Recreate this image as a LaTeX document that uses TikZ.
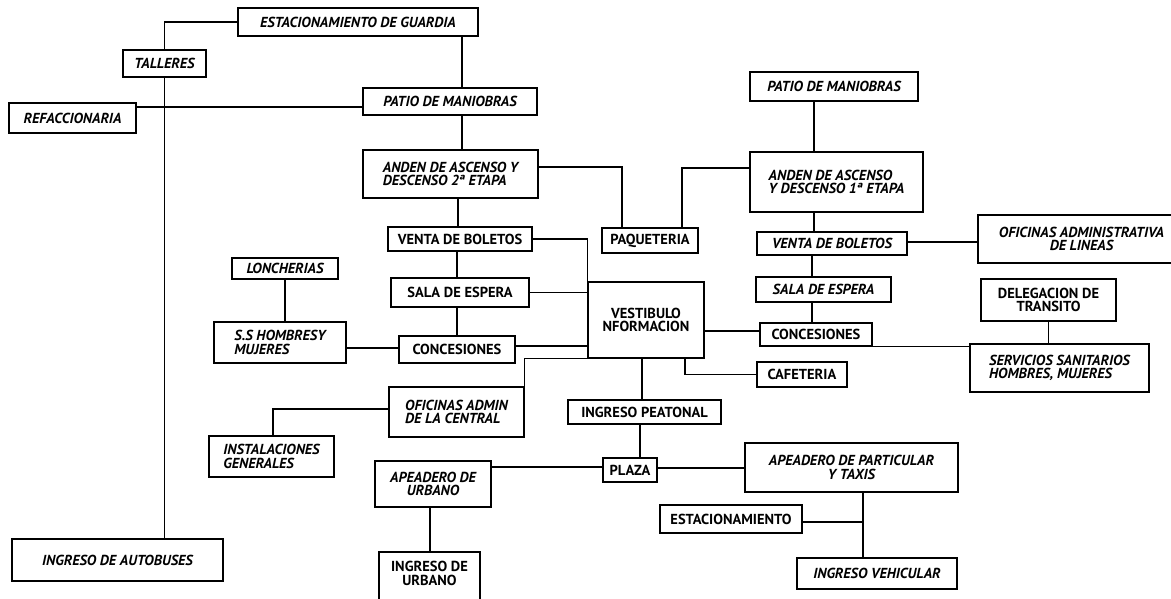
\documentclass[tikz,border=0pt]{standalone}
\usepackage{fontspec}
\setmainfont{PT Sans}
\begin{document}
\begin{tikzpicture}[x=1pt,y=-1pt,
  box/.style={draw,line width=1.1pt,inner sep=0pt,align=center,font=\fontsize{14.5}{13.5}\selectfont\bfseries},
  itl/.style={box,font=\fontsize{14.5}{13.5}\selectfont\bfseries\itshape},
  upr/.style={box},
  lft/.style={align=left},
  conn/.style={line width=1.1pt}]
\useasboundingbox (0,0) rectangle (1171,598);
\newcommand\boxat[7]{\node[#6,minimum width={(#4-#2)*1pt},minimum height={(#5-#3)*1pt}] (#1) at ({(#2+#4)/2},{(#3+#5)/2}) {#7};}
% left column
\boxat{est}{238}{8}{478}{36}{itl}{ESTACIONAMIENTO DE GUARDIA}
\boxat{tal}{123}{50}{206}{77}{itl}{TALLERES}
\boxat{ref}{9}{103}{136}{133}{itl}{REFACCIONARIA}
\boxat{patio}{363}{88}{537}{115}{itl}{PATIO DE MANIOBRAS}
\boxat{andenA}{363}{150}{538}{198}{itl,lft}{ANDEN DE ASCENSO Y\\DESCENSO 2ª ETAPA}
\boxat{ventaL}{388}{227}{532}{251}{upr}{VENTA DE BOLETOS}
\boxat{salaL}{391}{278}{529}{307}{upr}{SALA DE ESPERA}
\boxat{concL}{399}{336}{515}{363}{upr}{CONCESIONES}
\boxat{lonch}{232}{258}{338}{279}{itl}{LONCHERIAS}
\boxat{ss}{214}{322}{346}{363}{itl,lft}{S.S HOMBRESY\\MUJERES}
\boxat{ingaut}{12}{539}{223}{581}{itl}{INGRESO DE AUTOBUSES}
% centre
\boxat{paq}{602}{228}{698}{253}{upr}{PAQUETERIA}
\boxat{vest}{588}{282}{704}{358}{upr}{VESTIBULO\\NFORMACION}
\boxat{ofiC}{389}{387}{524}{437}{itl,lft}{OFICINAS ADMIN\\DE LA CENTRAL}
\boxat{inst}{209}{436}{334}{477}{itl,lft}{INSTALACIONES\\GENERALES}
\boxat{ingP}{568}{400}{721}{424}{upr}{INGRESO PEATONAL}
\boxat{plaza}{603}{458}{657}{482}{upr}{PLAZA}
\boxat{apeU}{375}{461}{491}{507}{itl}{APEADERO DE\\URBANO}
\boxat{ingU}{379}{552}{480}{612}{upr}{INGRESO DE\\URBANO\\[4pt]}
% right
\boxat{patioR}{750}{72}{918}{101}{itl}{PATIO DE MANIOBRAS}
\boxat{andenB}{750}{152}{923}{212}{itl,lft}{ANDEN DE ASCENSO\\Y DESCENSO 1ª ETAPA}
\boxat{ventaR}{757}{232}{907}{255}{itl}{VENTA DE BOLETOS}
\boxat{salaR}{756}{277}{891}{302}{itl}{SALA DE ESPERA}
\boxat{concR}{760}{323}{872}{346}{upr}{CONCESIONES}
\boxat{cafe}{757}{362}{847}{387}{upr}{CAFETERIA}
\boxat{ofiL}{978}{215}{1185}{263}{itl}{OFICINAS ADMINISTRATIVA\\DE LINEAS}
\boxat{deleg}{981}{279}{1116}{321}{upr}{DELEGACION DE\\TRANSITO}
\boxat{serv}{970}{344}{1149}{392}{itl,lft}{SERVICIOS SANITARIOS\\HOMBRES, MUJERES}
\boxat{apeP}{745}{443}{958}{492}{itl}{APEADERO DE PARTICULAR\\Y TAXIS}
\boxat{estac}{660}{505}{802}{533}{upr}{ESTACIONAMIENTO}
\boxat{ingV}{797}{558}{957}{589}{itl}{INGRESO VEHICULAR}
% connectors
\draw[conn] (tal.north) |- (est.west);
\draw[conn] (ref.east |- 0,107) -- (patio.west |- 0,107);
\draw[conn] (tal.south) -- (tal.south |- ingaut.north);
\draw[conn] (est.south -| 462,0) -- (patio.north -| 462,0);
\draw[conn] (patio.south -| 462,0) -- (andenA.north -| 462,0);
\draw[conn] (andenA.south -| 458,0) -- (ventaL.north -| 458,0);
\draw[conn] (ventaL.south -| 457,0) -- (salaL.north -| 457,0);
\draw[conn] (salaL.south -| 457,0) -- (concL.north -| 457,0);
\draw[conn] (ventaL.east) -| (vest.north west);
\draw[conn] (salaL.east) -- (salaL.east -| vest.west);
\draw[conn] (concL.east |- 0,346) -- (vest.west |- 0,346);
\draw[conn] (lonch.south) -- (lonch.south |- ss.north);
\draw[conn] (ss.east |- 0,348) -- (concL.west |- 0,348);
\draw[conn] (andenA.east |- 0,167) -- (622,167) -- (paq.north -| 622,0);
\draw[conn] (paq.north -| 682,0) |- (andenB.west |- 0,168);
\draw[conn] (patioR.south -| 814,0) -- (andenB.north -| 814,0);
\draw[conn] (andenB.south -| 814,0) -- (ventaR.north -| 814,0);
\draw[conn] (ventaR.south -| 812,0) -- (salaR.north -| 812,0);
\draw[conn] (salaR.south -| 812,0) -- (concR.north -| 812,0);
\draw[conn] (ventaR.east |- 0,242) -- (ofiL.west |- 0,242);
\draw[conn] (vest.east |- 0,331) -- (concR.west |- 0,331);
\draw[conn] (concR.south east) -- (serv.west |- concR.south east);
\draw[conn] (deleg.south) -- (deleg.south |- serv.north);
\draw[conn] (vest.south -| 685,0) |- (cafe.west);
\draw[conn] (vest.south -| 642,0) -- (ingP.north -| 642,0);
\draw[conn] (ingP.south -| 640,0) -- (plaza.north -| 640,0);
\draw[conn] (ofiC.north east) |- (vest.south west);
\draw[conn] (ofiC.west |- 0,409) -| (inst.north -| 273,0);
\draw[conn] (apeU.east |- 0,467) -- (plaza.west |- 0,467);
\draw[conn] (apeU.south -| 430,0) -- (ingU.north -| 430,0);
\draw[conn] (plaza.east |- 0,468) -- (apeP.west |- 0,468);
\draw[conn] (apeP.south -| 863,0) -- (ingV.north -| 863,0);
\draw[conn] (estac.east |- 0,522) -- (863,522);
\end{tikzpicture}
\end{document}
